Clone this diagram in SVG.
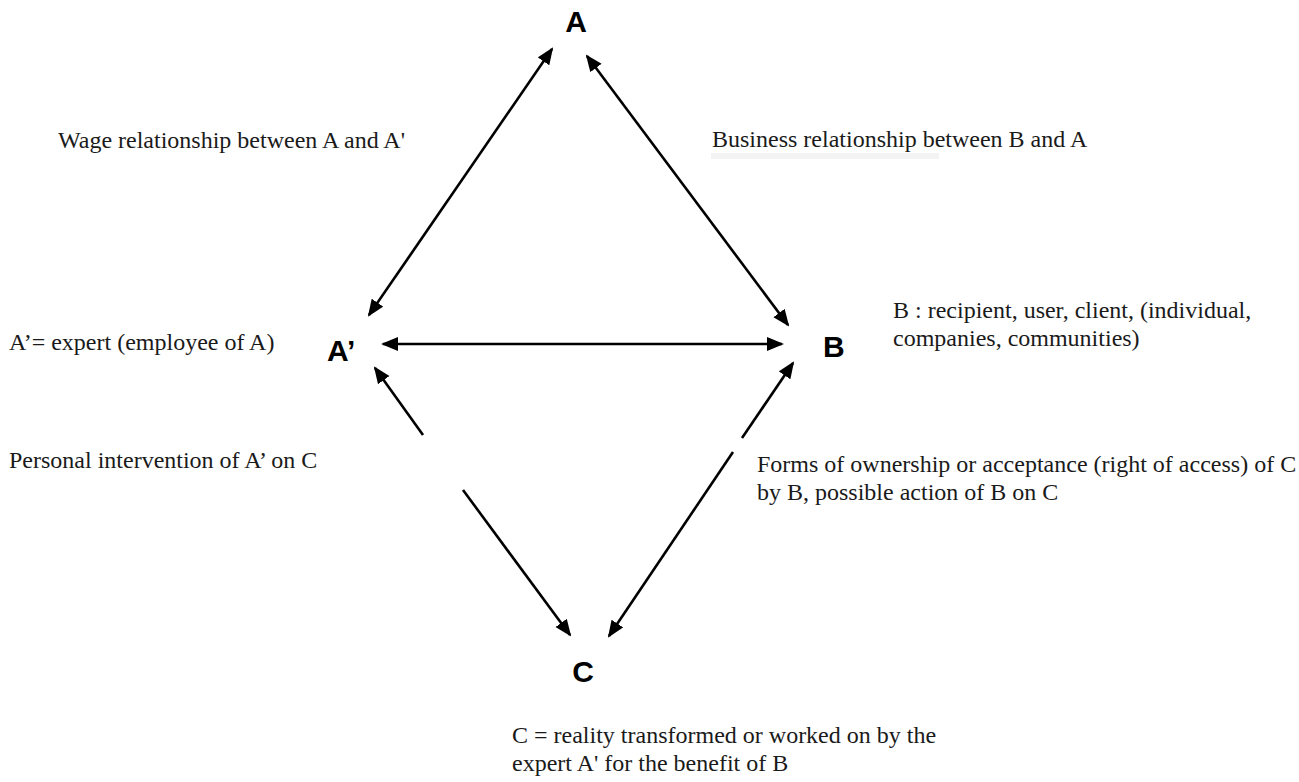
<svg xmlns="http://www.w3.org/2000/svg" width="1299" height="782" viewBox="0 0 1299 782">
<style>
.node{font-family:"Liberation Sans",Arial,sans-serif;font-weight:bold;font-size:30px;fill:#000}
.lbl{font-family:"Liberation Serif","Times New Roman",serif;font-size:24px;fill:#1a1a1a}
.conn{stroke:#000;stroke-width:2.6;fill:none}
</style>
<defs>
<marker id="ah" markerUnits="userSpaceOnUse" markerWidth="17" markerHeight="15" refX="15" refY="7" orient="auto-start-reverse" viewBox="0 0 17 15">
<path d="M0,0 L17,7 L0,14 z" fill="#000"/>
</marker>
</defs>
<rect width="1299" height="782" fill="#fff"/>
<rect x="711" y="153" width="228" height="6" fill="#f3f3f3"/>
<g id="connectors">
<line class="conn" x1="552" y1="49" x2="369" y2="315" marker-start="url(#ah)" marker-end="url(#ah)"/>
<line class="conn" x1="587" y1="56" x2="788" y2="325" marker-start="url(#ah)" marker-end="url(#ah)"/>
<line class="conn" x1="383" y1="344" x2="782" y2="344" marker-start="url(#ah)" marker-end="url(#ah)"/>
<line class="conn" x1="375" y1="368" x2="423" y2="435" marker-start="url(#ah)"/>
<line class="conn" x1="463" y1="490" x2="570" y2="635" marker-end="url(#ah)"/>
<line class="conn" x1="793" y1="363" x2="742" y2="438" marker-start="url(#ah)"/>
<line class="conn" x1="733" y1="452" x2="609" y2="636" marker-end="url(#ah)"/>
</g>
<g id="node-A"><text class="node" x="576" y="32" text-anchor="middle">A</text></g>
<g id="node-Aprime"><text class="node" x="327" y="361">A’</text></g>
<g id="node-B"><text class="node" x="823" y="357">B</text></g>
<g id="node-C"><text class="node" x="583" y="682" text-anchor="middle">C</text></g>
<g id="labels">
<text class="lbl" x="58" y="148">Wage relationship between A and A'</text>
<text class="lbl" x="712" y="147">Business relationship between B and A</text>
<text class="lbl" x="9" y="350">A’= expert (employee of A)</text>
<text class="lbl" x="893" y="318">B : recipient, user, client, (individual,</text>
<text class="lbl" x="893" y="346">companies, communities)</text>
<text class="lbl" x="9" y="468">Personal intervention of A’ on C</text>
<text class="lbl" x="757" y="472">Forms of ownership or acceptance (right of access) of C</text>
<text class="lbl" x="757" y="500">by B, possible action of B on C</text>
<text class="lbl" x="512" y="743">C = reality transformed or worked on by the</text>
<text class="lbl" x="512" y="771">expert A' for the benefit of B</text>
</g>
</svg>
